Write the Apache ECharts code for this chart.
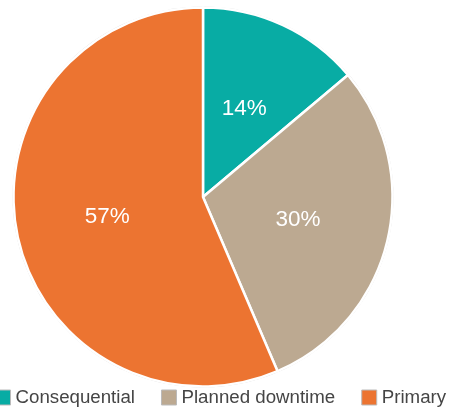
<!DOCTYPE html>
<html><head><meta charset="utf-8">
<script src="https://cdn.jsdelivr.net/npm/echarts@6/dist/echarts.min.js"></script>
<style>html,body{margin:0;padding:0;background:#fff}#c{width:453px;height:412px}</style>
</head><body><div id="c"></div>
<script>
const categories = ["Consequential", "Planned downtime", "Primary"];
const values = [14, 30, 57];
const colors = ["#08ACA4", "#BCA991", "#EC7431"];

const chart = echarts.init(document.getElementById('c'), null, {renderer: 'canvas'});
chart.setOption({
  animation: false,
  legend: {
    data: categories,
    bottom: 0,
    left: -10,
    itemWidth: 15,
    itemHeight: 15,
    itemGap: 26,
    icon: 'rect',
    itemStyle: {borderColor: '#bbbbbb', borderWidth: 1},
    textStyle: {fontFamily: 'Liberation Sans, Arial, sans-serif', fontSize: 18.7, color: '#454545'}
  },
  series: [
    {
      type: 'pie', silent: true, center: [203, 197], radius: [0, 190.5],
      label: {show: false}, labelLine: {show: false},
      itemStyle: {color: '#cfcfcf'},
      data: [{name: '_bg', value: 1}], z: 1
    },
    {
      type: 'pie', center: [203, 197], radius: [0, 189.5], startAngle: 90, clockwise: true,
      z: 2,
      itemStyle: {borderColor: '#ffffff', borderWidth: 2.5},
      label: {
        show: true, position: 'inside', color: '#ffffff',
        fontFamily: 'Liberation Sans, Arial, sans-serif', fontSize: 22.5,
        formatter: p => p.value + '%'
      },
      labelLine: {show: false},
      data: categories.map((n, i) => ({name: n, value: values[i], itemStyle: {color: colors[i]}}))
    }
  ]
});
</script></body></html>
